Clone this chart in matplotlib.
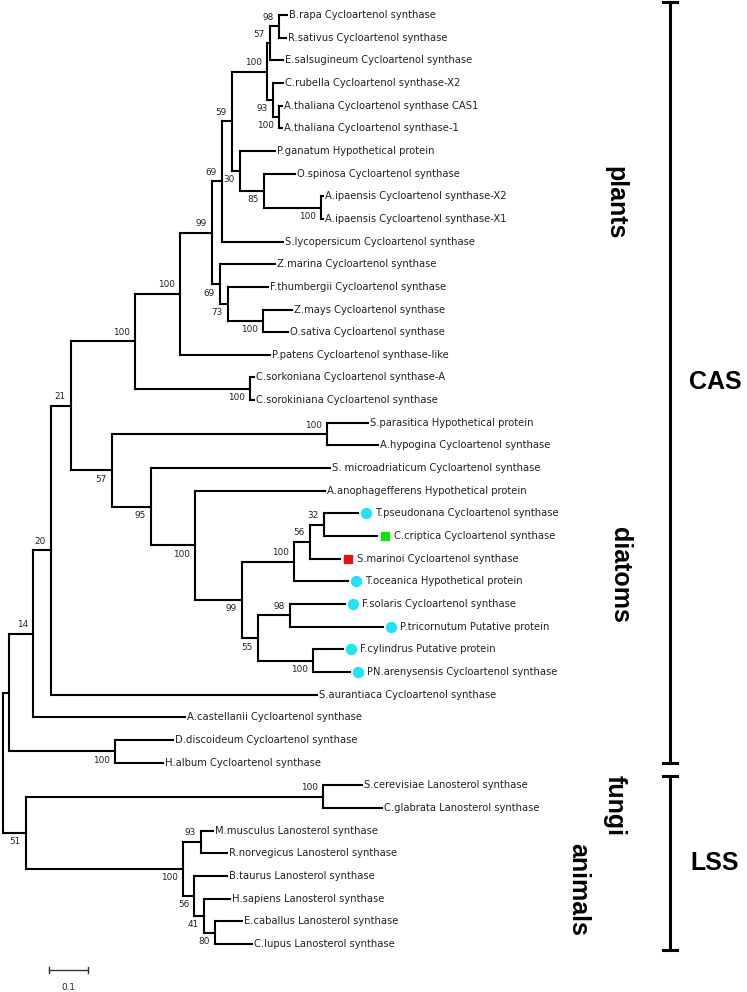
import matplotlib.pyplot as plt

# tree from the figure, branch lengths read against the 0.1 scale bar, bootstrap as node labels
tree_newick = (
    "((((" "((((" "(((("
    "(B.rapa_Cycloartenol_synthase:0.0205,R.sativus_Cycloartenol_synthase:0.0179)98:0.0231,"
    "E.salsugineum_Cycloartenol_synthase:0.0333)57:0.0077,"
    "(C.rubella_Cycloartenol_synthase-X2:0.0256,"
    "(A.thaliana_Cycloartenol_synthase_CAS1:0.0077,A.thaliana_Cycloartenol_synthase-1:0.0077)100:0.0154)93:0.0154"
    ")100:0.0897,"
    "(P.ganatum_Hypothetical_protein:0.0897,"
    "(O.spinosa_Cycloartenol_synthase:0.0795,"
    "(A.ipaensis_Cycloartenol_synthase-X2:0.0051,A.ipaensis_Cycloartenol_synthase-X1:0.0051)100:0.1462)85:0.0615)30:0.0205"
    ")59:0.0256,"
    "S.lycopersicum_Cycloartenol_synthase:0.1564)69:0.0256,"
    "(Z.marina_Cycloartenol_synthase:0.1410,"
    "(F.thumbergii_Cycloartenol_synthase:0.1026,"
    "(Z.mays_Cycloartenol_synthase:0.0744,O.sativa_Cycloartenol_synthase:0.0641)100:0.0897)73:0.0205)69:0.0205"
    ")99:0.0821,"
    "P.patens_Cycloartenol_synthase-like:0.2308)100:0.1154,"
    "(C.sorkoniana_Cycloartenol_synthase-A:0.0103,C.sorokiniana_Cycloartenol_synthase:0.0103)100:0.2949"
    ")100:0.1641,"
    "((S.parasitica_Hypothetical_protein:0.1051,A.hypogina_Cycloartenol_synthase:0.1308)100:0.5513,"
    "(S._microadriaticum_Cycloartenol_synthase:0.4590,"
    "(A.anophagefferens_Hypothetical_protein:0.3333,"
    "((((T.pseudonana_Cycloartenol_synthase:0.0872,C.criptica_Cycloartenol_synthase:0.1359)32:0.0359,"
    "S.marinoi_Cycloartenol_synthase:0.0769)56:0.0410,"
    "T.oceanica_Hypothetical_protein:0.1385)100:0.1333,"
    "((F.solaris_Cycloartenol_synthase:0.1410,P.tricornutum_Putative_protein:0.2385)98:0.0821,"
    "(F.cylindrus_Putative_protein:0.0769,PN.arenysensis_Cycloartenol_synthase:0.0949)100:0.1410)55:0.0410"
    ")99:0.1205)100:0.1128)95:0.1000)57:0.1051"
    ")21:0.0513,"
    "S.aurantiaca_Cycloartenol_synthase:0.6821)20:0.0462,"
    "A.castellanii_Cycloartenol_synthase:0.3897)14:0.0615,"
    "(D.discoideum_Cycloartenol_synthase:0.1487,H.album_Cycloartenol_synthase:0.1231)100:0.2718"
    "):0.0154,"
    "((S.cerevisiae_Lanosterol_synthase:0.1000,C.glabrata_Lanosterol_synthase:0.1513)100:0.7615,"
    "((M.musculus_Lanosterol_synthase:0.0308,R.norvegicus_Lanosterol_synthase:0.0667)93:0.0462,"
    "(B.taurus_Lanosterol_synthase:0.0846,"
    "(H.sapiens_Lanosterol_synthase:0.0667,"
    "(E.caballus_Lanosterol_synthase:0.0692,C.lupus_Lanosterol_synthase:0.0949)80:0.0282)41:0.0256)56:0.0282"
    ")100:0.4026)51:0.0590"
    ");"
)

# coloured marks in front of some diatom names
marked_leaves = {
    "T.pseudonana Cycloartenol synthase": ("o", "#22e3f3"),
    "C.criptica Cycloartenol synthase": ("s", "#16dd16"),
    "S.marinoi Cycloartenol synthase": ("s", "#ee1111"),
    "T.oceanica Hypothetical protein": ("o", "#22e3f3"),
    "F.solaris Cycloartenol synthase": ("o", "#22e3f3"),
    "P.tricornutum Putative protein": ("o", "#22e3f3"),
    "F.cylindrus Putative protein": ("o", "#22e3f3"),
    "PN.arenysensis Cycloartenol synthase": ("o", "#22e3f3"),
}

# groups on the right: (label, first leaf row, last leaf row)
clade_brackets = [("CAS", -0.57, 33.0), ("LSS", 33.58, 41.26)]
clade_names = [("plants", 8.3), ("diatoms", 24.7), ("fungi", 34.9), ("animals", 38.6)]
clade_name_x = [1.569, 1.582, 1.569, 1.474]
scale_len = 0.1


def parse_newick(s):
    pos = 0

    def node():
        nonlocal pos
        n = {"children": [], "name": "", "support": "", "length": 0.0}
        if s[pos] == "(":
            pos += 1
            n["children"].append(node())
            while s[pos] == ",":
                pos += 1
                n["children"].append(node())
            pos += 1
        start = pos
        while s[pos] not in ":,();":
            pos += 1
        label = s[start:pos]
        if n["children"]:
            n["support"] = label
        else:
            n["name"] = label.replace("_", " ")
        if s[pos] == ":":
            pos += 1
            start = pos
            while s[pos] not in ",();":
                pos += 1
            n["length"] = float(s[start:pos])
        return n

    return node()


root = parse_newick(tree_newick)
leaves = []


def layout(n, x0):
    n["x"] = x0 + n["length"]
    if not n["children"]:
        n["y"] = len(leaves)
        leaves.append(n)
    else:
        for c in n["children"]:
            layout(c, n["x"])
        n["y"] = (n["children"][0]["y"] + n["children"][-1]["y"]) / 2


root["length"] = 0.0
layout(root, 0.0)

fig = plt.figure(figsize=(7.47, 9.92), dpi=100)
ax = fig.add_axes([0, 0, 1, 1])
ax.set_xlim(-3 / 390, 744 / 390)
ax.set_ylim(43.12, -0.66)
ax.axis("off")

px = 1 / 390  # one pixel in branch-length units
lw = 1.5


def draw(n):
    if not n["children"]:
        return
    kids = n["children"]
    ax.plot([n["x"], n["x"]], [kids[0]["y"], kids[-1]["y"]], color="black", lw=lw,
            solid_capstyle="projecting")
    for i, c in enumerate(kids):
        ax.plot([n["x"], c["x"]], [c["y"], c["y"]], color="black", lw=lw,
                solid_capstyle="projecting")
        if c["support"]:
            dy = 6.5 if i == 0 else -6.5
            ax.annotate(c["support"], (c["x"], c["y"]), xytext=(-3.6, dy),
                        textcoords="offset points", ha="right", va="center",
                        fontsize=6.4, color="#222222")
        draw(c)


draw(root)

for leaf in leaves:
    if leaf["name"] in marked_leaves:
        m, col = marked_leaves[leaf["name"]]
        ax.plot(leaf["x"] + 8 * px, leaf["y"], marker=m, color=col, mec=col,
                markersize=7.2 if m == "o" else 5.6, ls="none")
        off = 12.5
    else:
        off = 1.5
    ax.annotate(leaf["name"], (leaf["x"], leaf["y"]), xytext=(off, 0),
                textcoords="offset points", ha="left", va="center",
                fontsize=7.2, color="#222222")

# scale bar
sb_x = 46 * px
sb_y = 42.14
ax.plot([sb_x, sb_x + scale_len], [sb_y, sb_y], color="#333333", lw=1)
for xx in (sb_x, sb_x + scale_len):
    ax.plot([xx, xx], [sb_y - 0.12, sb_y + 0.12], color="#333333", lw=1)
ax.text(sb_x + scale_len / 2, 42.9, "0.1", ha="center", va="center", fontsize=6.4, color="#222222")

# brackets on the right
bx = 667 * px
for label, top, bottom in clade_brackets:
    ax.plot([bx, bx], [top, bottom], color="black", lw=2.2)
    for yy in (top, bottom):
        ax.plot([bx - 7 * px, bx + 7 * px], [yy, yy], color="black", lw=2.2)
    ax.text(712 * px, (top + bottom) / 2, label, ha="center", va="center",
            fontsize=18, fontweight="bold", family="Liberation Sans")

for (name, yy), xx in zip(clade_names, clade_name_x):
    ax.text(xx, yy, name, rotation=-90, ha="center", va="center",
            fontsize=18, fontweight="bold", family="Liberation Sans")

fig.savefig("out.png", dpi=100)
